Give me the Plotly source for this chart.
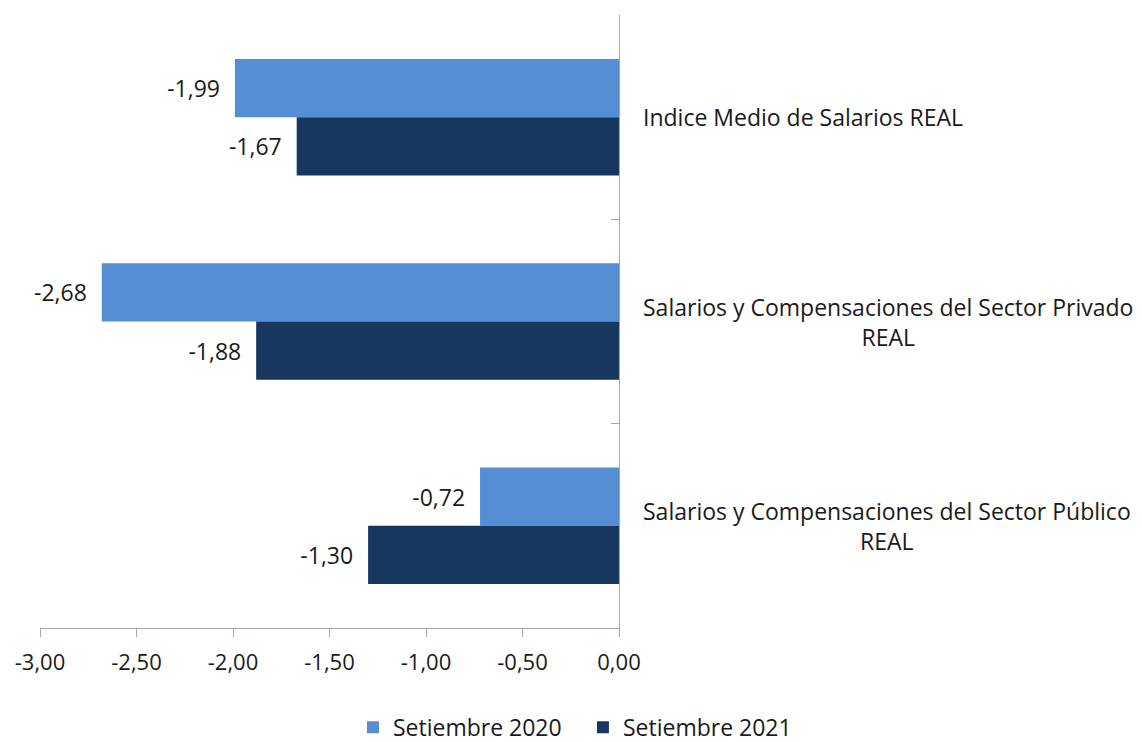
import plotly.graph_objects as go

categories = [
    "Indice Medio de Salarios REAL",
    "Salarios y Compensaciones del Sector Privado<br>REAL",
    "Salarios y Compensaciones del Sector Público<br>REAL",
]
sept_2020 = [-1.99, -2.68, -0.72]
sept_2021 = [-1.67, -1.88, -1.30]
series_names = ["Setiembre 2020", "Setiembre 2021"]
x_ticks = [-3.0, -2.5, -2.0, -1.5, -1.0, -0.5, 0.0]


def fmt(v):
    # comma decimal, plain hyphen as minus sign
    return f"{v:.2f}".replace(".", ",")


FONT = "Open Sans"
TEXT = "#1a1a1a"
AXIS = "#a6a6a6"

fig = go.Figure()
for name, vals, color in [(series_names[0], sept_2020, "#558ed5"),
                          (series_names[1], sept_2021, "#17375e")]:
    fig.add_trace(go.Bar(
        y=categories,
        x=vals,
        name=name,
        orientation="h",
        marker=dict(color=color, line=dict(width=0)),
        text=[fmt(v) + "\u00a0\u00a0" for v in vals],
        textposition="outside",
        textfont=dict(family=FONT, size=23, color=TEXT),
        cliponaxis=False,
    ))

# category labels to the right of the zero line
for cat in categories:
    fig.add_annotation(
        x=0, y=cat, xref="x", yref="y",
        text=cat, showarrow=False,
        xanchor="left", yanchor="middle", align="center",
        xshift=22,
        font=dict(family=FONT, size=23, color=TEXT),
    )

# page body adds an 8px offset, so the figure is 8px smaller than the window
fig.update_layout(
    width=1134, height=734,
    margin=dict(l=30, r=523, t=7, b=114),
    plot_bgcolor="white", paper_bgcolor="white",
    barmode="group",
    bargap=0.43,
    bargroupgap=0,
    font=dict(family=FONT, size=20, color=TEXT),
    xaxis=dict(
        range=[-3, 0], tickvals=x_ticks, ticktext=[fmt(v) for v in x_ticks],
        showgrid=False, zeroline=False,
        showline=True, linecolor=AXIS, linewidth=1,
        ticks="outside", ticklen=8, tickcolor=AXIS,
        ticklabelstandoff=7,
        tickfont=dict(family=FONT, size=22, color=TEXT),
    ),
    yaxis=dict(
        autorange="reversed", side="right",
        showgrid=False, zeroline=False,
        showline=True, linecolor=AXIS, linewidth=1,
        ticks="inside", ticklen=8, tickcolor=AXIS, tickson="boundaries",
        showticklabels=False,
    ),
    showlegend=True,
    legend=dict(
        orientation="h", xref="container", yref="container",
        x=0.507, y=0.02, xanchor="center", yanchor="middle",
        font=dict(family=FONT, size=23, color=TEXT),
        itemwidth=30, entrywidth=185,
    ),
)

fig.write_html("out.html")
